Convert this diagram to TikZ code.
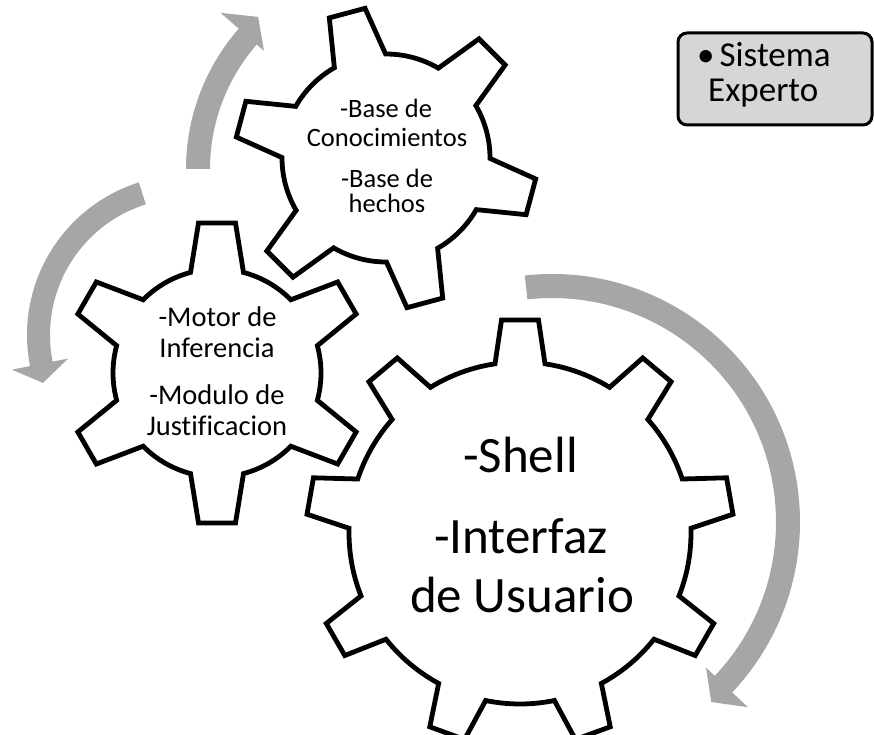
\documentclass[tikz,border=0pt]{standalone}
\usepackage{fontspec}
\setmainfont[Ligatures=NoCommon]{Carlito}
\definecolor{arrowgray}{HTML}{A6A6A6}
\definecolor{boxgray}{HTML}{D6D6D6}
\newcommand{\GearOutline}[6]{%
  \pgfmathsetmacro{\gst}{360/#2}%
  \pgfmathsetmacro{\gab}{asin(#6/#5)}%
  \pgfmathsetmacro{\grt}{veclen(#4,18.5)}%
  \pgfmathsetmacro{\gat}{atan(18.5/#4)}%
  \pgfmathtruncatemacro{\glast}{#2-1}%
  \draw[gearline, shift={(#1)}] ({#3-\gab}:#5)
    \foreach \k in {0,...,\glast}{
      -- ({#3+\k*\gst-\gat}:\grt) -- ({#3+\k*\gst+\gat}:\grt) -- ({#3+\k*\gst+\gab}:#5)
      arc[start angle={#3+\k*\gst+\gab}, end angle={#3+(\k+1)*\gst-\gab}, radius=#5]
    } -- cycle;
}
% center, r outer, r inner, start angle, end angle, wing inner r, wing outer r, tip angle, tip r
\newcommand{\CircArrow}[9]{%
  \fill[arrowgray, shift={(#1)}] ({#4}:#2) arc[start angle=#4, end angle=#5, radius=#2]
    -- ({#5}:#7) -- ({#8}:#9) -- ({#5}:#6) -- ({#5}:#3)
    arc[start angle=#5, end angle=#4, radius=#3] -- cycle;
}
\begin{document}
\begin{tikzpicture}[x=1pt,y=1pt,
  gearline/.style={draw=black, line width=4.8pt, fill=white, line join=miter},
  bigtxt/.style={font=\fontsize{51}{58}\selectfont, anchor=base, inner sep=0pt},
  midtxt/.style={font=\fontsize{28.5}{32}\selectfont, anchor=base, inner sep=0pt},
  smalltxt/.style={font=\fontsize{26.5}{29}\selectfont, anchor=base, inner sep=0pt},
  boxtxt/.style={font=\fontsize{35}{40}\selectfont, anchor=base west, inner sep=0pt}]
\useasboundingbox (0,0) rectangle (874,734);
\fill[white] (0,0) rectangle (874,734);

\coordinate (gbig) at (520,201);
\coordinate (gmotor) at (217,361);
\coordinate (gbase) at (386,576);
\coordinate (abig) at (552,212);
\coordinate (aleft) at (187,399);
\coordinate (atop) at (399,565);

% arrows
\CircArrow{abig}{248}{224}{96.3}{-43.4}{212}{269.5}{-48.5}{240.4}
\CircArrow{aleft}{160}{137}{107.5}{191.2}{121.2}{178.5}{198.4}{151.8}
\CircArrow{atop}{213}{189}{180}{138.8}{179.5}{237}{132.8}{207.3}

% gears
\GearOutline{gbig}{9}{90}{213}{171}{25}
\GearOutline{gmotor}{6}{90}{150}{104}{26.5}
\GearOutline{gbase}{6}{105}{150}{104}{26.5}

% big gear text
\node[bigtxt] (shell) at (520.5,262) {-Shell};
\node[bigtxt] (interfaz) at (521,181) {-Interfaz};
\node[bigtxt] (usuario) at (522,122) {de Usuario};

% motor gear text
\node[midtxt] (motor) at (217.5,407) {-Motor de};
\node[midtxt] (inferencia) at (217,376) {Inferencia};
\node[midtxt] (modulo) at (217,330) {-Modulo de};
\node[midtxt] (justif) at (217,299) {Justificacion};

% top gear text
\node[smalltxt] (base1) at (386,616) {-Base de};
\node[smalltxt] (conoc) at (387,587) {Conocimientos};
\node[smalltxt] (base2) at (387,546) {-Base de};
\node[smalltxt] (hechos) at (387,521) {hechos};

% legend box
\node[draw=black, line width=3pt, fill=boxgray, rounded corners=9pt,
      minimum width=194pt, minimum height=92pt, inner sep=0pt] (box) at (775,655) {};
\node[boxtxt] (sistema) at (697,667) {•\hspace{5pt}Sistema};
\node[boxtxt] (experto) at (708,632) {Experto};
\end{tikzpicture}
\end{document}
